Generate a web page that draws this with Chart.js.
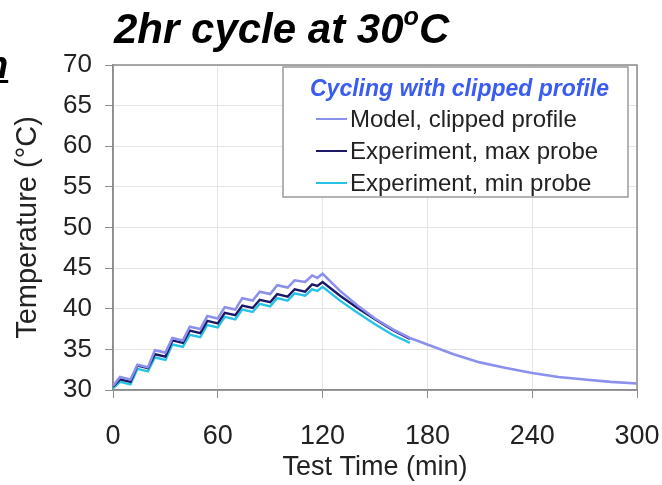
<!DOCTYPE html>
<html>
<head>
<meta charset="utf-8">
<script src="https://cdn.jsdelivr.net/npm/chart.js@4/dist/chart.umd.min.js"></script>
<style>
  html, body { margin: 0; padding: 0; background: #fff; }
  #wrap { position: relative; width: 662px; height: 485px; overflow: hidden; }
  #title {
    position: absolute; left: 114px; top: 5px;
    font: italic bold 42px "Liberation Sans", Arial, sans-serif; color: #000;
    white-space: nowrap;
  }
  #title sup { font-size: 0.6em; vertical-align: 0.7em; line-height: 0; }
  #frag {
    position: absolute; left: -15px; top: 44px;
    font: italic bold 38px "Liberation Sans", Arial, sans-serif; color: #000;
    text-decoration: underline;
  }
  canvas { position: absolute; left: 0; top: 0; }
</style>
</head>
<body>
<div id="wrap">
  <canvas id="tempChart" width="662" height="485"></canvas>
  <div id="title">2hr cycle at 30<sup>o</sup>C</div>
  <div id="frag">n</div>
</div>
<script>
// values (time in min, temperature in deg C)
const modelTime = [0, 4, 10, 14, 20, 24, 30, 34, 40, 44, 50, 54, 60, 64, 70, 74, 80, 84, 90, 94, 100, 104, 110, 114, 117, 120,
                   130, 140, 150, 160, 170, 180, 195, 210, 225, 240, 255, 270, 285, 300];
const modelTemp = [30.5, 31.6, 31.3, 33.1, 32.8, 34.9, 34.6, 36.4, 36.1, 37.8, 37.5, 39.1, 38.8, 40.2, 39.9, 41.3, 41.0, 42.1, 41.8, 42.9, 42.6, 43.5, 43.3, 44.1, 43.8, 44.3,
                   42.2, 40.4, 38.8, 37.5, 36.4, 35.6, 34.4, 33.4, 32.7, 32.1, 31.6, 31.3, 31.0, 30.8];

const expTime = [0, 4, 10, 14, 20, 24, 30, 34, 40, 44, 50, 54, 60, 64, 70, 74, 80, 84, 90, 94, 100, 104, 110, 114, 117, 120,
                 130, 140, 150, 160, 170];
const maxTemp = [30.4, 31.3, 31.0, 33.0, 32.7, 34.4, 34.1, 36.1, 35.8, 37.3, 37.0, 38.5, 38.2, 39.5, 39.2, 40.4, 40.1, 41.1, 40.8, 41.8, 41.5, 42.4, 42.1, 43.0, 42.8, 43.3,
                 41.6, 40.1, 38.7, 37.4, 36.3];
const minTemp = [30.2, 31.0, 30.7, 32.6, 32.3, 34.0, 33.7, 35.6, 35.3, 36.8, 36.5, 38.0, 37.7, 39.0, 38.7, 39.9, 39.6, 40.6, 40.3, 41.3, 41.0, 41.9, 41.6, 42.4, 42.2, 42.7,
                 41.0, 39.5, 38.1, 36.8, 35.8];

const seriesNames = ['Model, clipped profile', 'Experiment, max probe', 'Experiment, min probe'];
const legendTitle = 'Cycling with clipped profile';
const xTicks = [0, 60, 120, 180, 240, 300];
const yTicks = [30, 35, 40, 45, 50, 55, 60, 65, 70];

const FONT = '"Liberation Sans", Arial, sans-serif';

function pairs(xs, ys) {
    return xs.map((x, i) => ({x: x, y: ys[i]}));
}

// grey frame round the plot area (top and right sides too)
const frame = {
    id: 'frame',
    beforeDatasetsDraw(chart) {
        const {ctx, chartArea: a} = chart;
        ctx.save();
        ctx.strokeStyle = '#8c8c8c';
        ctx.lineWidth = 1.5;
        ctx.strokeRect(a.left, a.top, a.right - a.left, a.bottom - a.top);
        ctx.restore();
    }
};

// boxed legend inside the plot, with blue title
const boxLegend = {
    id: 'boxLegend',
    afterDatasetsDraw(chart) {
        const {ctx, chartArea: a} = chart;
        const x0 = a.left + 170, y0 = a.top + 2;
        const w = a.right - 9 - x0, h = 130;
        ctx.save();
        ctx.fillStyle = '#fff';
        ctx.fillRect(x0, y0, w, h);
        ctx.strokeStyle = '#9a9a9a';
        ctx.lineWidth = 1.5;
        ctx.strokeRect(x0, y0, w, h);

        ctx.fillStyle = '#3a5cf0';
        ctx.font = 'italic bold 23px ' + FONT;
        ctx.textAlign = 'center';
        ctx.textBaseline = 'middle';
        ctx.fillText(legendTitle, x0 + w / 2 + 4, y0 + 23);

        ctx.font = '24px ' + FONT;
        ctx.textAlign = 'left';
        const rows = [52, 84, 116];
        chart.data.datasets.forEach((ds, i) => {
            const y = y0 + rows[i];
            ctx.strokeStyle = ds.borderColor;
            ctx.lineWidth = 2;
            ctx.beginPath();
            ctx.moveTo(x0 + 33, y);
            ctx.lineTo(x0 + 64, y);
            ctx.stroke();
            ctx.fillStyle = '#222';
            ctx.fillText(ds.label, x0 + 67, y + 1);
        });
        ctx.restore();
    }
};

new Chart(document.getElementById('tempChart'), {
    type: 'line',
    data: {
        datasets: [
            {label: seriesNames[0], data: pairs(modelTime, modelTemp), borderColor: '#8b90ec', borderWidth: 2.6, order: 1},
            {label: seriesNames[1], data: pairs(expTime, maxTemp), borderColor: '#1c1866', borderWidth: 2.4, order: 2},
            {label: seriesNames[2], data: pairs(expTime, minTemp), borderColor: '#27c3e6', borderWidth: 2.4, order: 3}
        ]
    },
    options: {
        responsive: false,
        animation: false,
        events: [],
        elements: {point: {radius: 0}, line: {tension: 0}},
        layout: {padding: {left: 0, right: 25, top: 65, bottom: 1}},
        plugins: {legend: {display: false}, tooltip: {enabled: false}},
        scales: {
            x: {
                type: 'linear', min: 0, max: 300,
                afterBuildTicks(s) { s.ticks = xTicks.map(v => ({value: v})); },
                afterFit(s) { s.height = 94; s.paddingLeft = 0; s.paddingRight = 0; },
                ticks: {color: '#222', font: {family: FONT, size: 27}, padding: 22, maxRotation: 0},
                grid: {color: '#e4e4e4', tickColor: '#8c8c8c', tickLength: 8, lineWidth: 1},
                border: {color: '#8c8c8c', width: 1.5},
                title: {display: true, text: 'Test Time (min)', color: '#222', font: {family: FONT, size: 27}, padding: {top: 0, bottom: 0}}
            },
            y: {
                min: 30, max: 70,
                afterBuildTicks(s) { s.ticks = yTicks.map(v => ({value: v})); },
                afterFit(s) { s.width = 113; s.paddingTop = 0; s.paddingBottom = 0; },
                ticks: {color: '#222', font: {family: FONT, size: 26}, padding: 13},
                grid: {color: '#e4e4e4', tickColor: '#8c8c8c', tickLength: 8, lineWidth: 1},
                border: {color: '#8c8c8c', width: 1.5},
                title: {display: true, text: 'Temperature (°C)', color: '#222', font: {family: FONT, size: 29}, padding: {top: 11, bottom: 0}}
            }
        }
    },
    plugins: [frame, boxLegend]
});
</script>
</body>
</html>
